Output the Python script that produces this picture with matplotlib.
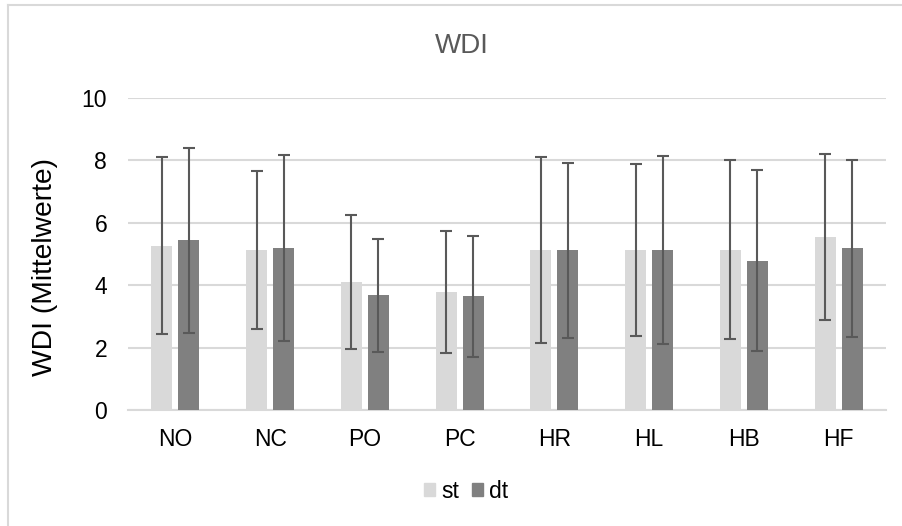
import matplotlib
matplotlib.use("Agg")
import matplotlib.pyplot as plt
import numpy as np
from matplotlib.patches import Patch
from matplotlib.lines import Line2D

plt.rcParams['font.family'] = ['Liberation Sans', 'DejaVu Sans']

categories = ["NO", "NC", "PO", "PC", "HR", "HL", "HB", "HF"]
st_mean = [5.26, 5.12, 4.10, 3.78, 5.13, 5.12, 5.13, 5.54]
st_sd   = [2.84, 2.53, 2.16, 1.96, 2.97, 2.75, 2.86, 2.65]
dt_mean = [5.44, 5.19, 3.67, 3.64, 5.11, 5.12, 4.78, 5.18]
dt_sd   = [2.96, 2.98, 1.81, 1.94, 2.81, 3.01, 2.89, 2.83]
series_names = ["st", "dt"]
yticks = [0, 2, 4, 6, 8, 10]

W, H = 903, 526
fig = plt.figure(figsize=(W / 100, H / 100), dpi=100)

# outer chart border (left + top visible)
fig.add_artist(Line2D([8 / W, 8 / W], [0, 1 - 5 / H], transform=fig.transFigure,
                      color="#d9d9d9", lw=1.5))
fig.add_artist(Line2D([8 / W, 1], [1 - 5 / H, 1 - 5 / H], transform=fig.transFigure,
                      color="#d9d9d9", lw=1.5))

ax = fig.add_axes([128 / W, 1 - 410 / H, (886 - 128) / W, (410 - 97.7) / H])

x = np.arange(len(categories))
bw = 0.22
off = 0.142
err_kw = dict(ecolor="#595959", elinewidth=1.5, capsize=4.5, capthick=1.5)
ax.bar(x - off, st_mean, bw, yerr=st_sd, color="#d9d9d9", label=series_names[0],
       error_kw=err_kw, zorder=3)
ax.bar(x + off, dt_mean, bw, yerr=dt_sd, color="#808080", label=series_names[1],
       error_kw=err_kw, zorder=3)

ax.set_xlim(-0.5, len(categories) - 0.5)
ax.set_ylim(0, 10)
ax.set_yticks(yticks)
ax.set_xticks(x)
ax.set_xticklabels(categories)
ax.yaxis.grid(True, color="#d9d9d9", lw=1.5, zorder=0)
ax.set_axisbelow(True)
for s in ["top", "right", "left"]:
    ax.spines[s].set_visible(False)
ax.spines["bottom"].set_color("#d9d9d9")
ax.spines["bottom"].set_linewidth(1.5)
ax.tick_params(axis="both", length=0, labelsize=16.5, colors="black")
ax.tick_params(axis="y", pad=15)
ax.tick_params(axis="x", pad=13)

fig.text(45 / W, 1 - 266.5 / H, "WDI (Mittelwerte)", rotation=90, fontsize=20.3,
         ha="center", va="center", color="black")
fig.text(462 / W, 1 - 46 / H, "WDI", fontsize=20, color="#595959",
         ha="center", va="center")

handles = [Patch(color="#d9d9d9"), Patch(color="#808080")]
fig.legend(handles, series_names, loc="center", bbox_to_anchor=(466 / W, 1 - 491 / H),
           ncol=2, frameon=False, fontsize=16.5, handlelength=0.5, handleheight=0.5,
           handletextpad=0.25, columnspacing=0.55, borderpad=0)

fig.savefig("out.png", dpi=100)
